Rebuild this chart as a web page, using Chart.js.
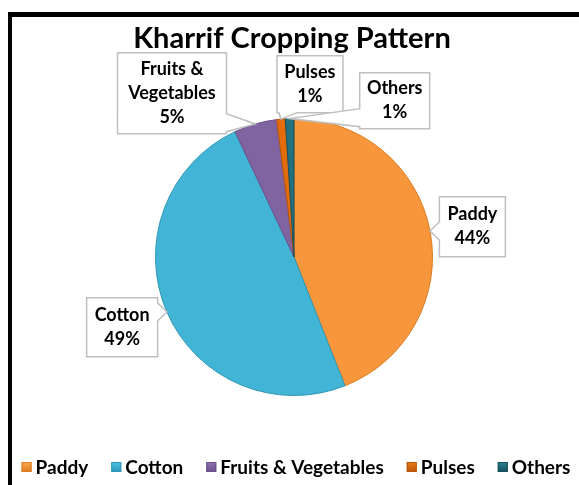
<!DOCTYPE html>
<html>
<head>
<meta charset="utf-8">
<script src="https://cdn.jsdelivr.net/npm/chart.js@4.4.1/dist/chart.umd.min.js"></script>
<style>
  html, body { margin: 0; padding: 0; background: #ffffff; overflow: hidden; }
  #wrap { position: relative; width: 579px; height: 485px; }
  #frame { position: absolute; left: 8px; top: 12px; width: 700px; height: 700px;
           border-left: 4px solid #000; border-top: 5px solid #000; box-sizing: border-box; }
  canvas { position: absolute; left: 0; top: 0; }
</style>
</head>
<body>
<div id="wrap">
  <div id="frame"></div>
  <canvas id="c" width="579" height="485"></canvas>
</div>
<script>
// ---- data ----
const categories = ["Paddy", "Cotton", "Fruits & Vegetables", "Pulses", "Others"];
const values = [44, 49, 5, 1, 1];
const chartTitle = "Kharrif Cropping Pattern";

// ---- styles ----
const baseColors  = ["#F7963A", "#42B5D6", "#8064A2", "#E36C0A", "#23707F"];
const lightColors = ["#FAA950", "#50C4E5", "#8F74B1", "#EE7A18", "#2C8596"];
const rimColors   = ["#DC7A20", "#2E96B6", "#6A4F8C", "#B8560A", "#174F5B"];
const FONT = "Lato, 'Open Sans', sans-serif";

// callout lines and box placement (relative to pie center, in radius units)
const calloutLines = [["Paddy"], ["Cotton"], ["Fruits &", "Vegetables"], ["Pulses"], ["Others"]];
const calloutPos = [
  { dx: 1.288, dy: -0.219, w: 66, h: 60 },
  { dx: -1.241, dy: 0.507, w: 71, h: 59 },
  { dx: -0.881, dy: -1.183, w: 109, h: 81 },
  { dx: 0.115, dy: -1.248, w: 66, h: 57 },
  { dx: 0.727, dy: -1.129, w: 70, h: 56 }
];

const total = values.reduce((a, b) => a + b, 0);

function sliceFill(ctx) {
  const i = ctx.dataIndex;
  const el = ctx.element;
  const c = ctx.chart.ctx;
  if (!el || el.outerRadius === undefined || !isFinite(el.x)) return baseColors[i];
  const r = el.outerRadius || 1;
  const g = c.createRadialGradient(el.x, el.y, 0, el.x, el.y, r);
  g.addColorStop(0, lightColors[i]);
  g.addColorStop(0.8, baseColors[i]);
  g.addColorStop(1, rimColors[i]);
  return g;
}

const decor = {
  id: "decor",
  afterDatasetsDraw(chart) {
    const ctx = chart.ctx;
    const meta = chart.getDatasetMeta(0);
    const arcs = meta.data;
    if (!arcs.length) return;
    const cx = arcs[0].x, cy = arcs[0].y, R = arcs[0].outerRadius;

    // title
    ctx.save();
    ctx.fillStyle = "#000";
    ctx.font = "bold 29px " + FONT;
    ctx.textAlign = "center";
    ctx.textBaseline = "alphabetic";
    ctx.fillText(chartTitle, 292, 48);
    ctx.restore();

    // callouts
    arcs.forEach((arc, i) => {
      const mid = (arc.startAngle + arc.endAngle) / 2;
      const ax = cx + Math.cos(mid) * arc.outerRadius;
      const ay = cy + Math.sin(mid) * arc.outerRadius;
      const p = calloutPos[i];
      const bx = cx + p.dx * R, by = cy + p.dy * R;
      const L = bx - p.w / 2, T = by - p.h / 2, Rt = bx + p.w / 2, B = by + p.h / 2;
      const half = 9;
      const clamp = (v, a, b) => Math.max(a, Math.min(b, v));
      const pts = [];
      if (ax < L) {
        const yy = clamp(ay, T + half + 2, B - half - 2);
        pts.push([L, T], [Rt, T], [Rt, B], [L, B], [L, yy + half], [ax, ay], [L, yy - half]);
      } else if (ax > Rt) {
        const yy = clamp(ay, T + half + 2, B - half - 2);
        pts.push([L, T], [Rt, T], [Rt, yy - half], [ax, ay], [Rt, yy + half], [Rt, B], [L, B]);
      } else if (ay > B) {
        const xx = clamp(ax, L + half + 2, Rt - half - 2);
        pts.push([L, T], [Rt, T], [Rt, B], [xx + half, B], [ax, ay], [xx - half, B], [L, B]);
      } else {
        const xx = clamp(ax, L + half + 2, Rt - half - 2);
        pts.push([L, T], [xx - half, T], [ax, ay], [xx + half, T], [Rt, T], [Rt, B], [L, B]);
      }
      ctx.save();
      ctx.beginPath();
      pts.forEach((q, k) => k ? ctx.lineTo(q[0], q[1]) : ctx.moveTo(q[0], q[1]));
      ctx.closePath();
      ctx.fillStyle = "#ffffff";
      ctx.fill();
      ctx.strokeStyle = "#BFBFBF";
      ctx.lineWidth = 1.5;
      ctx.stroke();

      const lines = calloutLines[i].concat([Math.round(values[i] / total * 100) + "%"]);
      const lh = 24;
      ctx.fillStyle = "#000";
      ctx.font = "bold 18px " + FONT;
      ctx.textAlign = "center";
      ctx.textBaseline = "middle";
      const y0 = by - (lines.length - 1) * lh / 2;
      lines.forEach((t, k) => ctx.fillText(t, bx, y0 + k * lh));
      ctx.restore();
    });

    // legend
    ctx.save();
    ctx.font = "bold 19px " + FONT;
    ctx.textBaseline = "middle";
    ctx.textAlign = "left";
    const box = 10, gap = 4, spacing = 23;
    const widths = categories.map(t => box + gap + ctx.measureText(t).width);
    const totalW = widths.reduce((a, b) => a + b, 0) + spacing * (categories.length - 1);
    let x = 296 - totalW / 2;
    const ly = 467;
    categories.forEach((t, i) => {
      const g = ctx.createLinearGradient(x, ly - box / 2, x, ly + box / 2);
      g.addColorStop(0, lightColors[i]);
      g.addColorStop(1, rimColors[i]);
      ctx.fillStyle = g;
      ctx.fillRect(x, ly - box / 2, box, box);
      ctx.strokeStyle = rimColors[i];
      ctx.lineWidth = 1;
      ctx.strokeRect(x + 0.5, ly - box / 2 + 0.5, box - 1, box - 1);
      ctx.fillStyle = "#000";
      ctx.fillText(t, x + box + gap, ly + 1);
      x += widths[i] + spacing;
    });
    ctx.restore();
  }
};

new Chart(document.getElementById("c"), {
  type: "pie",
  data: {
    labels: categories,
    datasets: [{
      data: values,
      backgroundColor: sliceFill,
      borderColor: rimColors,
      borderWidth: 1
    }]
  },
  options: {
    responsive: false,
    animation: false,
    layout: { padding: { left: 155, right: 146, top: 118, bottom: 89 } },
    plugins: {
      legend: { display: false },
      title: { display: false },
      tooltip: { enabled: false }
    }
  },
  plugins: [decor]
});
</script>
</body>
</html>
